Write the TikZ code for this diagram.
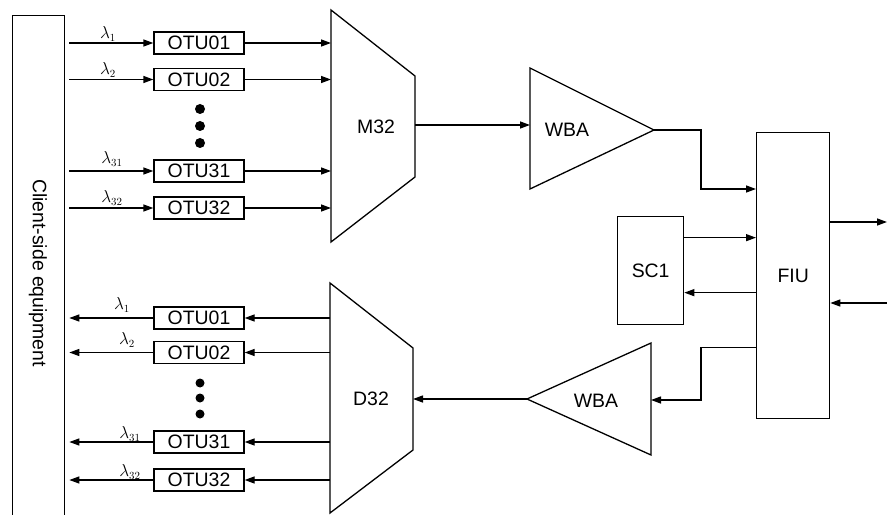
\documentclass[tikz,border=0pt]{standalone}
\usepackage{fontspec}
\setmainfont{Liberation Sans}
\usetikzlibrary{arrows.meta}
\begin{document}
\begin{tikzpicture}[x=1bp,y=-1bp, line width=1.3bp,
  arr/.style={-{Triangle[length=10bp,width=7bp]}},
  lbl/.style={font=\fontsize{19.5}{22}\selectfont},
  otu/.style={draw, lbl, minimum width=90bp, minimum height=22bp, inner sep=0pt},
  blk/.style={draw, lbl, inner sep=0pt, anchor=north west},
  lam/.style={font=\fontsize{16}{18}\selectfont, inner sep=0pt},
  dot/.style={circle, fill, inner sep=0pt, minimum size=10bp}]
\useasboundingbox (0,0) rectangle (887,515);
\begin{scope}
\clip (0,0) rectangle (887,515);
% client-side equipment
\node[blk, minimum width=52bp, minimum height=530bp] (client) at (12,15) {};
\node[lbl, rotate=-90] (clienttxt) at (38,273) {Client-side equipment};

% M32
\coordinate (m1) at (331,10); \coordinate (m2) at (415,76);
\coordinate (m3) at (415,177); \coordinate (m4) at (331,242);
\draw (m1) -- (m2) -- (m3) -- (m4) -- cycle;
\coordinate (mL) at (331,126); \coordinate (mR) at (415,126);
\node[lbl] (m32) at (376,127) {M32};

% D32
\coordinate (d1) at (330,283); \coordinate (d2) at (413,348);
\coordinate (d3) at (413,450); \coordinate (d4) at (330,513);
\draw (d1) -- (d2) -- (d3) -- (d4) -- cycle;
\coordinate (dL) at (330,399); \coordinate (dR) at (413,399);
\node[lbl] (d32) at (371,399) {D32};

% top OTUs
\node[otu] (otuA1) at (199,43) {OTU01};
\node[otu] (otuA2) at (199,79.5) {OTU02};
\node[otu] (otuA31) at (199,171) {OTU31};
\node[otu] (otuA32) at (199,208) {OTU32};
\node[dot] (dA1) at (200,109) {};
\node[dot] (dA2) at (200,126) {};
\node[dot] (dA3) at (200,143) {};
\foreach \n in {A1,A2,A31,A32}{
  \draw[arr, shorten <=4bp] (client.east |- otu\n) -- (otu\n.west);
  \draw[arr] (otu\n.east) -- (otu\n -| mL);
}
\node[lam] (lA1) at (108,34) {$\lambda_1$};
\node[lam] (lA2) at (108,70) {$\lambda_2$};
\node[lam] (lA31) at (112,159) {$\lambda_{31}$};
\node[lam] (lA32) at (112,198) {$\lambda_{32}$};

% bottom OTUs
\node[otu] (otuB1) at (199,318) {OTU01};
\node[otu] (otuB2) at (199,352.5) {OTU02};
\node[otu] (otuB31) at (199,442) {OTU31};
\node[otu] (otuB32) at (199,480) {OTU32};
\node[dot, minimum size=9bp] (dB1) at (200,383) {};
\node[dot, minimum size=9bp] (dB2) at (200,398) {};
\node[dot, minimum size=9bp] (dB3) at (200,414) {};
\foreach \n in {B1,B2,B31,B32}{
  \draw[arr, shorten >=4bp] (otu\n.west) -- (client.east |- otu\n);
  \draw[arr] (otu\n -| dL) -- (otu\n.east);
}
\node[lam] (lB1) at (122,305) {$\lambda_1$};
\node[lam] (lB2) at (127,340) {$\lambda_2$};
\node[lam] (lB31) at (130,434) {$\lambda_{31}$};
\node[lam] (lB32) at (130,472) {$\lambda_{32}$};

% upper WBA
\coordinate (wAt) at (530,68); \coordinate (wAb) at (530,189);
\coordinate (wAtip) at (654,130); \coordinate (wAin) at (530,125);
\draw (wAt) -- (wAtip) -- (wAb) -- cycle;
\node[lbl] (wbaA) at (567,130) {WBA};
\draw[arr] (wAin -| mR) -- (wAin);

% lower WBA
\coordinate (wBt) at (651,343); \coordinate (wBb) at (651,455);
\coordinate (wBtip) at (527,399);
\draw (wBt) -- (wBtip) -- (wBb) -- cycle;
\node[lbl] (wbaB) at (596,401) {WBA};
\draw[arr] (wBtip) -- (wBtip -| dR);

% FIU and SC1
\node[blk, minimum width=73bp, minimum height=286bp] (fiu) at (756,132) {FIU};
\node[blk, minimum width=66bp, minimum height=108bp] (sc1) at (617,216) {SC1};

\coordinate (jA) at (701,189);
\draw[arr] (wAtip) -| (jA) -- (jA -| fiu.west);
\coordinate (jB) at (701,400);
\draw[arr] ([yshift=-72bp]fiu.west) -| (jB) -- (jB -| wBt);

\draw[arr] ([yshift=33bp]sc1.east) coordinate (s1) -- (s1 -| fiu.west);
\coordinate (s2) at ([yshift=-22bp]sc1.east);
\draw[arr] (s2 -| fiu.west) -- (s2);

\coordinate (outR) at (887,222);
\coordinate (inR) at (887,303);
\draw[arr] (fiu.east |- outR) -- (outR);
\draw[arr] (inR) -- (inR -| fiu.east);
\end{scope}
\end{tikzpicture}
\end{document}
